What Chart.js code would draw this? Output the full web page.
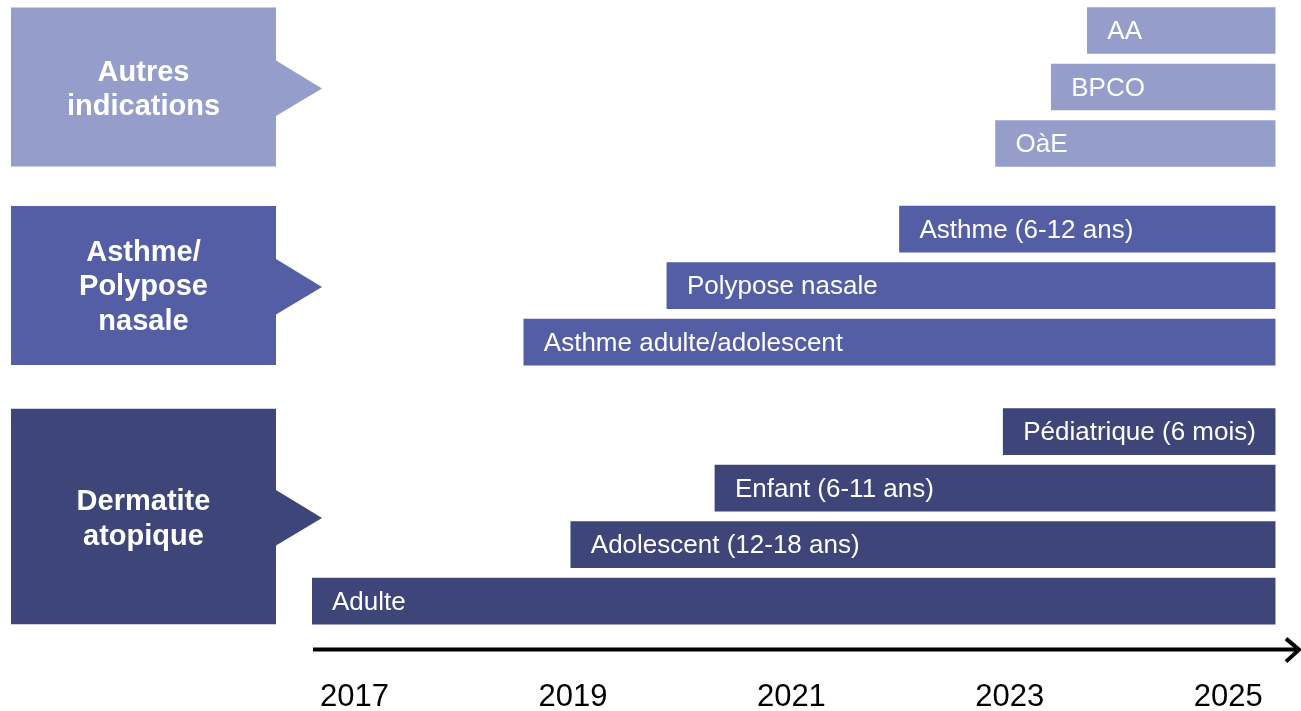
<!DOCTYPE html>
<html>
<head>
<meta charset="utf-8">
<script src="https://cdn.jsdelivr.net/npm/chart.js@4.4.0/dist/chart.umd.min.js"></script>
<style>
html, body { margin:0; padding:0; background:#fff; }
canvas { display:block; }
</style>
</head>
<body>
<canvas id="timelineChart" width="1301" height="711"></canvas>
<script>
//----------data----------
var groupNames = [["Dermatite", "atopique"], ["Asthme/", "Polypose", "nasale"], ["Autres", "indications"]];
var indications = ["Adulte", "Adolescent (12-18 ans)", "Enfant (6-11 ans)", "Pédiatrique (6 mois)",
	"Asthme adulte/adolescent", "Polypose nasale", "Asthme (6-12 ans)",
	"OàE", "BPCO", "AA"];
var indicationGroup = [0, 0, 0, 0, 1, 1, 1, 2, 2, 2];
var startYear = [2016.61, 2018.98, 2020.30, 2022.94, 2018.55, 2019.86, 2021.99, 2022.87, 2023.38, 2023.71];
var endYear = 2025.43;
var tickYears = [2017, 2019, 2021, 2023, 2025];

//----------styles----------
var groupColors = ["#3E4579", "#535EA5", "#959DCB"];
var FONT = "'Liberation Sans', Arial, sans-serif";
var BAR_H = 46;
var GROUP_GAPS = [0, 0.585, 0.515];   // extra space before each group

// row position on the y scale: one unit per row, extra gap between groups
var rowPos = [];
var p = 0;
for (var i = 0; i < indications.length; i++) {
	if (i > 0) {
		p += 1;
		if (indicationGroup[i] !== indicationGroup[i - 1]) p += GROUP_GAPS[indicationGroup[i]];
	}
	rowPos.push(p);
}

// left boxes, axis arrow and bar labels
var decorPlugin = {
	id: 'decor',
	beforeDatasetsDraw: function(chart) {
		var c = chart.ctx, y = chart.scales.y, area = chart.chartArea;
		c.save();
		groupNames.forEach(function(lines, g) {
			var rows = rowPos.filter(function(v, i) { return indicationGroup[i] === g; });
			var top = y.getPixelForValue(Math.max.apply(null, rows)) - BAR_H / 2;
			var bottom = y.getPixelForValue(Math.min.apply(null, rows)) + BAR_H / 2;
			var mid = (top + bottom) / 2;
			c.fillStyle = groupColors[g];
			c.beginPath();
			c.moveTo(11, top);
			c.lineTo(276, top);
			c.lineTo(276, mid - 26.5);
			c.lineTo(322, mid + 1.5);
			c.lineTo(276, mid + 29);
			c.lineTo(276, bottom);
			c.lineTo(11, bottom);
			c.closePath();
			c.fill();

			c.fillStyle = '#fff';
			c.font = 'bold 29px ' + FONT;
			c.textAlign = 'center';
			c.textBaseline = 'middle';
			var lh = 34.5;
			var shift = lines.length === 2 ? 3 : 1.5;
			var y0 = mid + shift - (lines.length - 1) * lh / 2;
			lines.forEach(function(t, k) { c.fillText(t, 143.5, y0 + k * lh); });
		});

		// time arrow
		var ay = area.bottom - 33.5;
		c.strokeStyle = '#000';
		c.lineWidth = 4;
		c.beginPath();
		c.moveTo(area.left + 1, ay);
		c.lineTo(area.right - 2, ay);
		c.stroke();
		c.beginPath();
		c.moveTo(area.right - 15, ay - 11);
		c.lineTo(area.right - 2, ay);
		c.lineTo(area.right - 15, ay + 12);
		c.stroke();
		c.restore();
	},
	afterDatasetsDraw: function(chart) {
		var c = chart.ctx;
		var meta = chart.getDatasetMeta(0);
		c.save();
		c.fillStyle = '#fff';
		c.font = '26px ' + FONT;
		c.textAlign = 'left';
		c.textBaseline = 'middle';
		meta.data.forEach(function(bar, i) {
			var left = Math.min(bar.x, bar.base);
			c.fillText(indications[i], left + 20, bar.y + 1.5);
		});
		c.restore();
	}
};

var ctx = document.getElementById("timelineChart").getContext('2d');
var myChart = new Chart(ctx, {
	type: 'bar',
	data: {
		datasets: [{
			data: indications.map(function(n, i) {
				return { x: [startYear[i], endYear], y: rowPos[i] };
			}),
			backgroundColor: indicationGroup.map(function(g) { return groupColors[g]; }),
			barThickness: BAR_H,
			borderWidth: 0
		}]
	},
	options: {
		indexAxis: 'y',
		responsive: false,
		animation: false,
		layout: { padding: { left: 312, right: 0, top: 0, bottom: 0 } },
		plugins: {
			legend: { display: false },
			tooltip: { enabled: false }
		},
		scales: {
			x: {
				type: 'linear',
				min: 2016.61,
				max: 2025.667,
				grid: { display: false, drawTicks: false },
				border: { display: false },
				afterBuildTicks: function(scale) {
					scale.ticks = tickYears.map(function(v) { return { value: v }; });
				},
				ticks: {
					color: '#000',
					padding: 0,
					font: { family: FONT, size: 31, lineHeight: 0.9 },
					callback: function(v) { return String(v); }
				}
			},
			y: {
				type: 'linear',
				display: false,
				offset: false,
				min: -1.45,
				max: 10.64
			}
		}
	},
	plugins: [decorPlugin]
});
</script>
</body>
</html>
